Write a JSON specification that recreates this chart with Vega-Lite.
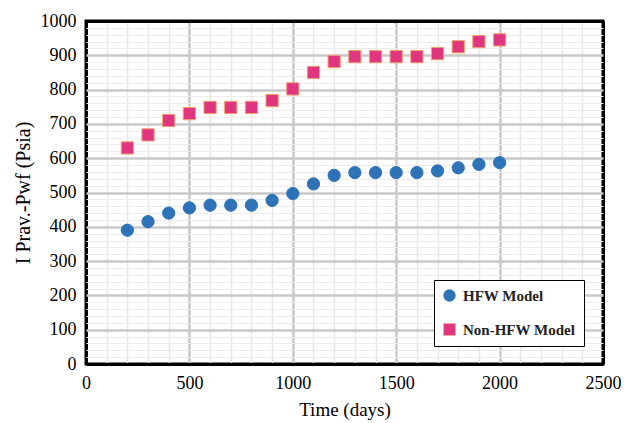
{
  "$schema": "https://vega.github.io/schema/vega-lite/v6.json",
  "width": 517,
  "height": 343,
  "autosize": "none",
  "padding": {"left": 86, "top": 21, "right": 24, "bottom": 59},
  "background": "white",
  "config": {
    "view": {"stroke": "black", "strokeWidth": 3},
    "font": "Liberation Serif"
  },
  "data": {
    "values": [
      {"time": 200, "value": 390, "model": "HFW Model"},
      {"time": 300, "value": 415, "model": "HFW Model"},
      {"time": 400, "value": 440, "model": "HFW Model"},
      {"time": 500, "value": 455, "model": "HFW Model"},
      {"time": 600, "value": 463, "model": "HFW Model"},
      {"time": 700, "value": 463, "model": "HFW Model"},
      {"time": 800, "value": 463, "model": "HFW Model"},
      {"time": 900, "value": 477, "model": "HFW Model"},
      {"time": 1000, "value": 497, "model": "HFW Model"},
      {"time": 1100, "value": 525, "model": "HFW Model"},
      {"time": 1200, "value": 550, "model": "HFW Model"},
      {"time": 1300, "value": 558, "model": "HFW Model"},
      {"time": 1400, "value": 558, "model": "HFW Model"},
      {"time": 1500, "value": 558, "model": "HFW Model"},
      {"time": 1600, "value": 558, "model": "HFW Model"},
      {"time": 1700, "value": 563, "model": "HFW Model"},
      {"time": 1800, "value": 572, "model": "HFW Model"},
      {"time": 1900, "value": 582, "model": "HFW Model"},
      {"time": 2000, "value": 587, "model": "HFW Model"},
      {"time": 200, "value": 630, "model": "Non-HFW Model"},
      {"time": 300, "value": 668, "model": "Non-HFW Model"},
      {"time": 400, "value": 710, "model": "Non-HFW Model"},
      {"time": 500, "value": 730, "model": "Non-HFW Model"},
      {"time": 600, "value": 748, "model": "Non-HFW Model"},
      {"time": 700, "value": 748, "model": "Non-HFW Model"},
      {"time": 800, "value": 748, "model": "Non-HFW Model"},
      {"time": 900, "value": 768, "model": "Non-HFW Model"},
      {"time": 1000, "value": 802, "model": "Non-HFW Model"},
      {"time": 1100, "value": 850, "model": "Non-HFW Model"},
      {"time": 1200, "value": 882, "model": "Non-HFW Model"},
      {"time": 1300, "value": 896, "model": "Non-HFW Model"},
      {"time": 1400, "value": 896, "model": "Non-HFW Model"},
      {"time": 1500, "value": 896, "model": "Non-HFW Model"},
      {"time": 1600, "value": 896, "model": "Non-HFW Model"},
      {"time": 1700, "value": 905, "model": "Non-HFW Model"},
      {"time": 1800, "value": 925, "model": "Non-HFW Model"},
      {"time": 1900, "value": 940, "model": "Non-HFW Model"},
      {"time": 2000, "value": 945, "model": "Non-HFW Model"}
    ]
  },
  "mark": {"type": "point", "filled": true, "size": 150, "opacity": 1, "strokeWidth": 1},
  "encoding": {
    "x": {
      "field": "time", "type": "quantitative",
      "scale": {"domain": [0, 2500], "nice": false},
      "axis": {
        "title": "Time (days)", "titleFontSize": 19, "titleFontWeight": "normal", "titleColor": "black", "titlePadding": 8,
        "values": [0,100,200,300,400,500,600,700,800,900,1000,1100,1200,1300,1400,1500,1600,1700,1800,1900,2000,2100,2200,2300,2400,2500],
        "labelExpr": "datum.value % 500 === 0 ? datum.label : ''",
        "labelFontSize": 18, "labelColor": "black", "labelPadding": 10, "labelFlush": false, "labelOverlap": false,
        "ticks": false, "domain": false,
        "grid": true,
        "gridColor": {"expr": "(datum.value === 0 || datum.value === 2500) ? 'black' : (datum.value % 500 === 0 ? '#c8c8c8' : '#e8e8e8')"},
        "gridWidth": {"expr": "(datum.value === 0 || datum.value === 2500) ? 3 : (datum.value % 500 === 0 ? 2.5 : 1.5)"},
        "format": "d"
      }
    },
    "y": {
      "field": "value", "type": "quantitative",
      "scale": {"domain": [0, 1000], "nice": false},
      "axis": {
        "title": "I Prav.-Pwf (Psia)", "titleFontSize": 20, "titleFontWeight": "normal", "titleColor": "black", "titlePadding": 7,
        "values": [0,20,40,60,80,100,120,140,160,180,200,220,240,260,280,300,320,340,360,380,400,420,440,460,480,500,520,540,560,580,600,620,640,660,680,700,720,740,760,780,800,820,840,860,880,900,920,940,960,980,1000],
        "labelExpr": "datum.value % 100 === 0 ? datum.label : ''",
        "labelFontSize": 18, "labelColor": "black", "labelPadding": 10, "labelFlush": false, "labelOverlap": false,
        "ticks": false, "domain": false,
        "grid": true,
        "gridColor": {"expr": "(datum.value === 0 || datum.value === 1000) ? 'black' : (datum.value % 100 === 0 ? '#c8c8c8' : '#ececec')"},
        "gridWidth": {"expr": "(datum.value === 0 || datum.value === 1000) ? 3 : (datum.value % 100 === 0 ? 2.5 : 1.2)"},
        "format": "d"
      }
    },
    "color": {
      "field": "model", "type": "nominal",
      "scale": {"domain": ["HFW Model", "Non-HFW Model"], "range": ["#2e72b8", "#e0367f"]},
      "legend": {
        "title": null, "orient": "none", "legendX": 348, "legendY": 259,
        "strokeColor": "black", "fillColor": "white",
        "padding": 8, "rowPadding": 18,
        "labelFontSize": 15, "labelFontWeight": "bold", "labelColor": "#222",
        "symbolSize": 140, "labelOffset": 6, "symbolOpacity": 1, "symbolStrokeWidth": 0.5
      }
    },
    "shape": {
      "field": "model", "type": "nominal",
      "scale": {"domain": ["HFW Model", "Non-HFW Model"], "range": ["circle", "square"]},
      "legend": null
    },
    "stroke": {
      "field": "model", "type": "nominal",
      "scale": {"domain": ["HFW Model", "Non-HFW Model"], "range": ["#2e72b8", "#f0a070"]},
      "legend": null
    }
  }
}
